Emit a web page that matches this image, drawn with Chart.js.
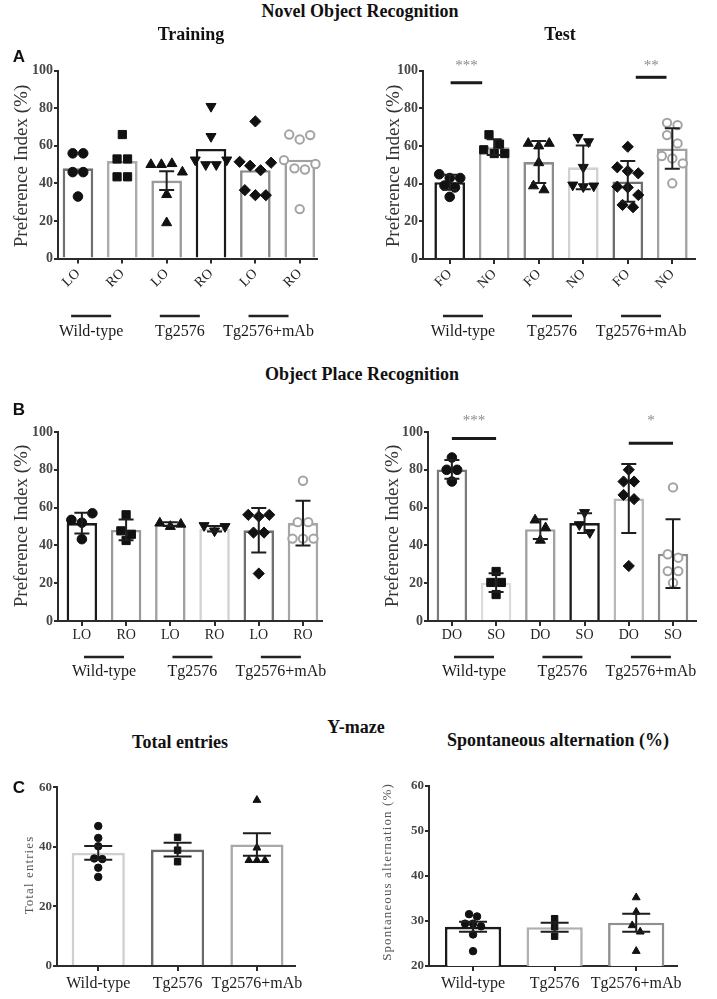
<!DOCTYPE html>
<html>
<head>
<meta charset="utf-8">
<script src="https://cdn.jsdelivr.net/npm/chart.js@4.4.1/dist/chart.umd.min.js"></script>
<style>
  html, body { margin: 0; padding: 0; background: #fff; }
  #page { position: relative; width: 717px; height: 999px; overflow: hidden; font-family: "Liberation Serif", "Times New Roman", serif; color: #1a1a1a; }
  canvas { position: absolute; z-index: 1; }
  .txt { position: absolute; z-index: 2; white-space: nowrap; line-height: 1; transform: translate(-50%, -50%); }
  .head, .sub { font-weight: bold; font-size: 18px; color: #111; }
  .letter { font-family: "Liberation Sans", Arial, sans-serif; font-weight: bold; font-size: 17px; color: #111; }
  .ytitle { font-size: 19px; color: #333; transform: translate(-50%, -50%) rotate(-90deg); }
  .ytitle-small { font-size: 13px; letter-spacing: 1.1px; color: #555; transform: translate(-50%, -50%) rotate(-90deg); }
</style>
</head>
<body>
<div id="page">
  <canvas id="nor-training"></canvas>
  <canvas id="nor-test"></canvas>
  <canvas id="opr-training"></canvas>
  <canvas id="opr-test"></canvas>
  <canvas id="ymaze-entries"></canvas>
  <canvas id="ymaze-alternation"></canvas>
</div>
<script>
// ---- data ----
const groupNames = ['Wild-type', 'Tg2576', 'Tg2576+mAb']

// Novel object recognition, training
const norTrainingLabels = ['LO', 'RO', 'LO', 'RO', 'LO', 'RO']
const norTrainingMeans = [48, 51.9, 41.5, 58.3, 47, 52.6]
const norTrainingErr = [0, 0, 5, 0, 0, 0]
const norTrainingPoints = [
  [56, 56, 46, 46, 33],
  [66, 53, 53, 43.5, 43.5],
  [50, 50, 50.5, 46, 34, 19],
  [81, 65, 52.5, 50, 50, 52.5],
  [73, 51.5, 49.4, 47, 51, 36.4, 33.7, 33.7],
  [66, 63.4, 65.7, 52.4, 48, 47.4, 50.3, 26.3]
]

// Novel object recognition, test
const norTestLabels = ['FO', 'NO', 'FO', 'NO', 'FO', 'NO']
const norTestMeans = [40.8, 59.4, 51.5, 48.7, 41.2, 58.7]
const norTestErr = [4, 4.2, 11.2, 11.6, 10.8, 10.8]
const norTestPoints = [
  [45, 43, 43, 39, 38, 33],
  [66, 61, 58, 56, 56],
  [61.4, 60, 61.4, 51.1, 38.8, 36.7],
  [64.6, 62.3, 48.7, 39.3, 38.4, 38.8],
  [59.6, 48.7, 46.7, 45.5, 38.4, 38, 34, 28.7, 27.5],
  [72.3, 71.1, 65.8, 61.4, 54.7, 53.4, 50.8, 40.2]
]

// Object place recognition, training
const oprTrainingLabels = ['LO', 'RO', 'LO', 'RO', 'LO', 'RO']
const oprTrainingMeans = [51.8, 48.2, 51.2, 48.8, 48, 51.8]
const oprTrainingErr = [5.5, 5.5, 1, 1.5, 11.8, 11.8]
const oprTrainingPoints = [
  [53.5, 52, 57, 43.3],
  [56.2, 47.7, 45.9, 42.6],
  [51.8, 50, 51.2],
  [50.5, 47.7, 50],
  [56.2, 55.3, 56.2, 46.8, 46.8, 25.1],
  [74.2, 52.3, 52.3, 43.6, 43.6, 43.6]
]

// Object place recognition, test
const oprTestLabels = ['DO', 'SO', 'DO', 'SO', 'DO', 'SO']
const oprTestMeans = [80.2, 20.3, 48.6, 51.8, 64.8, 35.6]
const oprTestErr = [5, 5, 5.2, 5.2, 18.3, 18.2]
const oprTestPoints = [
  [86.5, 80, 80, 73.8],
  [26.2, 20.4, 20.4, 14],
  [53.4, 49.3, 42.7],
  [57.4, 51, 46.8],
  [80, 73.8, 73.8, 66.7, 64.5, 29.1],
  [70.7, 35.3, 33.5, 26.4, 26.4, 20.2]
]

// Y-maze
const entriesMeans = [38, 39.1, 40.8]
const entriesErr = [2.3, 2.3, 3.8]
const entriesPoints = [
  [47, 43, 40.2, 36.1, 35.9, 33, 29.9],
  [43.2, 38.9, 35],
  [55.7, 39.7, 35.5, 35.5, 35.5]
]
const alternationMeans = [28.7, 28.6, 29.6]
const alternationErr = [1.1, 1, 2]
const alternationPoints = [
  [31.5, 31, 29.4, 29.4, 28.8, 27, 23.3],
  [30.5, 28.7, 26.6],
  [35.2, 32, 29, 27.6, 23.3]
]

// ---- styling ----
const axisColor = '#2b2b2b'
const serif = '"Liberation Serif", "Times New Roman", serif'
const markers = [
  { pointStyle: 'circle', r: 4.8 },
  { pointStyle: 'rect', r: 5.8 },
  { pointStyle: 'triangle', r: 5.8 },
  { pointStyle: 'triangle', r: 5.8, rotation: 180 },
  { pointStyle: 'rectRot', r: 5.6 },
  { pointStyle: 'circle', r: 4.2, open: true }
]

// spreads overlapping dots sideways, draws error bars, significance lines and group labels
const panelPlugin = {
  id: 'panel',
  beforeDatasetsDraw(chart, args, opts) {
    const xs = chart.scales.x
    chart.data.datasets.forEach((ds, di) => {
      if (ds.type !== 'scatter') return
      const pts = chart.getDatasetMeta(di).data.map((el, k) => ({ el, k, y: el.y }))
      pts.sort((a, b) => a.y - b.y)
      const rows = []
      pts.forEach(p => {
        const row = rows[rows.length - 1]
        if (row && p.y - row[0].y < opts.dodge * 0.9) row.push(p)
        else rows.push([p])
      })
      const cx = xs.getPixelForValue(ds.group)
      rows.forEach(row => {
        row.sort((a, b) => a.k - b.k)
        row.forEach((p, j) => { p.el.x = cx + (j - (row.length - 1) / 2) * opts.dodge })
      })
    })
  },
  afterDatasetsDraw(chart, args, opts) {
    const { ctx, scales: { x: xs, y: ys } } = chart
    ctx.save()
    ctx.strokeStyle = '#1e1e1e'
    ctx.lineWidth = 2
    opts.means.forEach((m, i) => {
      const e = opts.err[i]
      if (!e) return
      const x = xs.getPixelForValue(i)
      const lo = ys.getPixelForValue(m - e)
      const hi = ys.getPixelForValue(m + e)
      const h = opts.cap / 2
      ctx.beginPath()
      ctx.moveTo(x, lo); ctx.lineTo(x, hi)
      ctx.moveTo(x - h, lo); ctx.lineTo(x + h, lo)
      ctx.moveTo(x - h, hi); ctx.lineTo(x + h, hi)
      ctx.stroke()
    })
    const sig = opts.sig || []
    sig.forEach(s => {
      const x0 = xs.getPixelForValue(s.from)
      const x1 = xs.getPixelForValue(s.to)
      const y = ys.getPixelForValue(s.level)
      ctx.lineWidth = 3
      ctx.strokeStyle = '#1a1a1a'
      ctx.beginPath()
      ctx.moveTo(x0, y); ctx.lineTo(x1, y)
      ctx.stroke()
      ctx.fillStyle = '#8a8a8a'
      ctx.font = '15px ' + serif
      ctx.textAlign = 'center'
      ctx.textBaseline = 'middle'
      ctx.fillText(s.text, (x0 + x1) / 2, ys.getPixelForValue(opts.starLevel) + 3)
    })
    ctx.restore()
  },
  afterDraw(chart, args, opts) {
    if (!opts.groupLine) return
    const { ctx, chartArea, scales: { x: xs } } = chart
    ctx.save()
    groupNames.forEach((name, g) => {
      const cx = (xs.getPixelForValue(2 * g) + xs.getPixelForValue(2 * g + 1)) / 2 + opts.groupShift
      const ly = chartArea.bottom + opts.groupLine
      ctx.strokeStyle = '#222'
      ctx.lineWidth = 2.5
      ctx.beginPath()
      ctx.moveTo(cx - 20, ly); ctx.lineTo(cx + 20, ly)
      ctx.stroke()
      ctx.fillStyle = '#1a1a1a'
      ctx.font = '16px ' + serif
      ctx.textAlign = 'center'
      ctx.textBaseline = 'middle'
      ctx.fillText(name, cx, chartArea.bottom + opts.groupText)
    })
    ctx.restore()
  }
}

function makePanel(id, cfg) {
  const canvas = document.getElementById(id)
  const { box, area } = cfg
  canvas.width = box.width
  canvas.height = box.height
  canvas.style.left = box.left + 'px'
  canvas.style.top = box.top + 'px'
  const yWidth = area.left - box.left
  const xHeight = box.top + box.height - area.bottom
  const scale = cfg.markerScale || 1

  const datasets = [{
    type: 'bar',
    data: cfg.means.map((m, i) => ({ x: i, y: m })),
    backgroundColor: '#ffffff',
    borderColor: cfg.barColors,
    borderWidth: 2.6,
    borderSkipped: 'start',
    categoryPercentage: 1,
    barPercentage: cfg.barPct,
    order: 2
  }]
  cfg.points.forEach((vals, g) => {
    const m = markers[g]
    datasets.push({
      type: 'scatter',
      group: g,
      data: vals.map(v => ({ x: g, y: v })),
      pointStyle: m.pointStyle,
      pointRadius: m.r * scale,
      pointRotation: m.rotation || 0,
      pointBackgroundColor: m.open ? '#ffffff' : '#111111',
      pointBorderColor: m.open ? '#a3a3a3' : '#111111',
      pointBorderWidth: m.open ? 2 : 1,
      clip: false,
      order: 1
    })
  })

  return new Chart(canvas, {
    type: 'bar',
    data: { datasets },
    options: {
      responsive: false,
      animation: false,
      events: [],
      layout: { padding: { top: area.top - box.top, right: box.left + box.width - area.right, left: 0, bottom: 0 } },
      plugins: {
        legend: { display: false },
        tooltip: { enabled: false },
        panel: {
          means: cfg.means,
          err: cfg.err,
          cap: cfg.cap,
          dodge: cfg.dodge,
          sig: cfg.sig,
          starLevel: cfg.starLevel,
          groupLine: cfg.groupLine,
          groupText: cfg.groupText,
          groupShift: cfg.groupShift || 0
        }
      },
      scales: {
        x: {
          type: 'linear',
          offset: false,
          min: cfg.x[0],
          max: cfg.x[1],
          afterBuildTicks: s => { s.ticks = cfg.labels.map((_, i) => ({ value: i })) },
          afterFit: s => { s.height = xHeight; s.paddingLeft = 0; s.paddingRight = 0 },
          grid: { display: true, offset: false, drawOnChartArea: false, tickLength: 5, color: axisColor, lineWidth: 2 },
          border: { display: true, color: axisColor, width: 2 },
          ticks: {
            autoSkip: false,
            callback: v => cfg.labels[v],
            minRotation: cfg.rotate || 0,
            maxRotation: cfg.rotate || 0,
            padding: cfg.xPad,
            color: '#222',
            font: { family: serif, size: cfg.xFont }
          }
        },
        y: {
          min: cfg.y[0],
          max: cfg.y[1],
          afterFit: s => { s.width = yWidth; s.paddingTop = 0; s.paddingBottom = 0 },
          grid: { display: true, drawOnChartArea: false, tickLength: 4, color: axisColor, lineWidth: 2 },
          border: { display: true, color: axisColor, width: 2 },
          ticks: {
            stepSize: cfg.y[2],
            padding: 1,
            color: '#474747',
            font: { family: serif, size: cfg.yFont, weight: 'bold' }
          }
        }
      }
    },
    plugins: [panelPlugin]
  })
}

makePanel('nor-training', {
  box: { left: 0, top: 40, width: 358, height: 310 },
  area: { left: 58, right: 317, top: 70.7, bottom: 258.5 },
  x: [-0.45, 5.39], y: [0, 100, 20],
  labels: norTrainingLabels, means: norTrainingMeans, err: norTrainingErr, points: norTrainingPoints,
  barColors: ['#707070', '#ababab', '#9a9a9a', '#1a1a1a', '#8a8a8a', '#a0a0a0'],
  barPct: 0.69, cap: 15, dodge: 10.5, rotate: 45, xFont: 14, yFont: 14, xPad: 2,
  groupLine: 57.5, groupText: 73.5, groupShift: -9
})

makePanel('nor-test', {
  box: { left: 358, top: 40, width: 359, height: 310 },
  area: { left: 423, right: 695, top: 70.7, bottom: 259 },
  x: [-0.6, 5.51], y: [0, 100, 20],
  labels: norTestLabels, means: norTestMeans, err: norTestErr, points: norTestPoints,
  barColors: ['#1a1a1a', '#a2a2a2', '#8c8c8c', '#d2d2d2', '#6e6e6e', '#a2a2a2'],
  barPct: 0.69, cap: 15, dodge: 10.5, rotate: 45, xFont: 14, yFont: 14, xPad: 2,
  sig: [
    { from: 0.02, to: 0.73, level: 93.6, text: '***' },
    { from: 4.18, to: 4.87, level: 96.5, text: '**' }
  ],
  starLevel: 104.3,
  groupLine: 57, groupText: 73, groupShift: -9
})

makePanel('opr-training', {
  box: { left: 0, top: 395, width: 358, height: 295 },
  area: { left: 58, right: 322, top: 432, bottom: 621 },
  x: [-0.54, 5.43], y: [0, 100, 20],
  labels: oprTrainingLabels, means: oprTrainingMeans, err: oprTrainingErr, points: oprTrainingPoints,
  barColors: ['#1a1a1a', '#9a9a9a', '#a0a0a0', '#d2d2d2', '#707070', '#a6a6a6'],
  barPct: 0.69, cap: 15, dodge: 10.5, xFont: 14, yFont: 14, xPad: 1,
  groupLine: 36, groupText: 51, groupShift: 0
})

makePanel('opr-test', {
  box: { left: 358, top: 395, width: 359, height: 295 },
  area: { left: 428, right: 696, top: 432, bottom: 621 },
  x: [-0.54, 5.52], y: [0, 100, 20],
  labels: oprTestLabels, means: oprTestMeans, err: oprTestErr, points: oprTestPoints,
  barColors: ['#7a7a7a', '#dcdcdc', '#a0a0a0', '#1a1a1a', '#b8b8b8', '#8c8c8c'],
  barPct: 0.69, cap: 15, dodge: 10.5, xFont: 14, yFont: 14, xPad: 1,
  sig: [
    { from: 0, to: 1, level: 96.5, text: '***' },
    { from: 4, to: 5, level: 94.1, text: '*' }
  ],
  starLevel: 107.4,
  groupLine: 36, groupText: 51, groupShift: 0
})

makePanel('ymaze-entries', {
  box: { left: 0, top: 770, width: 358, height: 229 },
  area: { left: 57, right: 295, top: 787.3, bottom: 966 },
  x: [-0.52, 2.48], y: [0, 60, 20],
  labels: groupNames, means: entriesMeans, err: entriesErr, points: entriesPoints,
  barColors: ['#cfcfcf', '#6a6a6a', '#a8a8a8'],
  barPct: 0.67, cap: 28, dodge: 8, markerScale: 0.78, xFont: 16, yFont: 13, xPad: 3
})

makePanel('ymaze-alternation', {
  box: { left: 358, top: 770, width: 359, height: 229 },
  area: { left: 429, right: 677, top: 785.7, bottom: 966 },
  x: [-0.54, 2.5], y: [20, 60, 10],
  labels: groupNames, means: alternationMeans, err: alternationErr, points: alternationPoints,
  barColors: ['#1a1a1a', '#b0b0b0', '#909090'],
  barPct: 0.69, cap: 28, dodge: 8, markerScale: 0.78, xFont: 16, yFont: 13, xPad: 3
})

// ---- headings and axis titles ----
const page = document.getElementById('page')
const texts = [
  ['Novel Object Recognition', 360, 11, 'head'],
  ['Training', 191, 34, 'sub'],
  ['Test', 560, 34, 'sub'],
  ['A', 19, 56, 'letter'],
  ['Preference Index (%)', 20, 166, 'ytitle'],
  ['Preference Index (%)', 392, 166, 'ytitle'],
  ['Object Place Recognition', 362, 374, 'head'],
  ['B', 19, 409, 'letter'],
  ['Preference Index (%)', 20, 526, 'ytitle'],
  ['Preference Index (%)', 391, 526, 'ytitle'],
  ['Y-maze', 356, 727, 'head'],
  ['Total entries', 180, 742, 'sub'],
  ['Spontaneous alternation (%)', 558, 740, 'sub'],
  ['C', 19, 787, 'letter'],
  ['Total entries', 28, 875, 'ytitle-small'],
  ['Spontaneous alternation (%)', 386, 872, 'ytitle-small']
]
texts.forEach(([t, x, y, cls]) => {
  const d = document.createElement('div')
  d.className = 'txt ' + cls
  d.textContent = t
  d.style.left = x + 'px'
  d.style.top = y + 'px'
  page.appendChild(d)
})
</script>
</body>
</html>
